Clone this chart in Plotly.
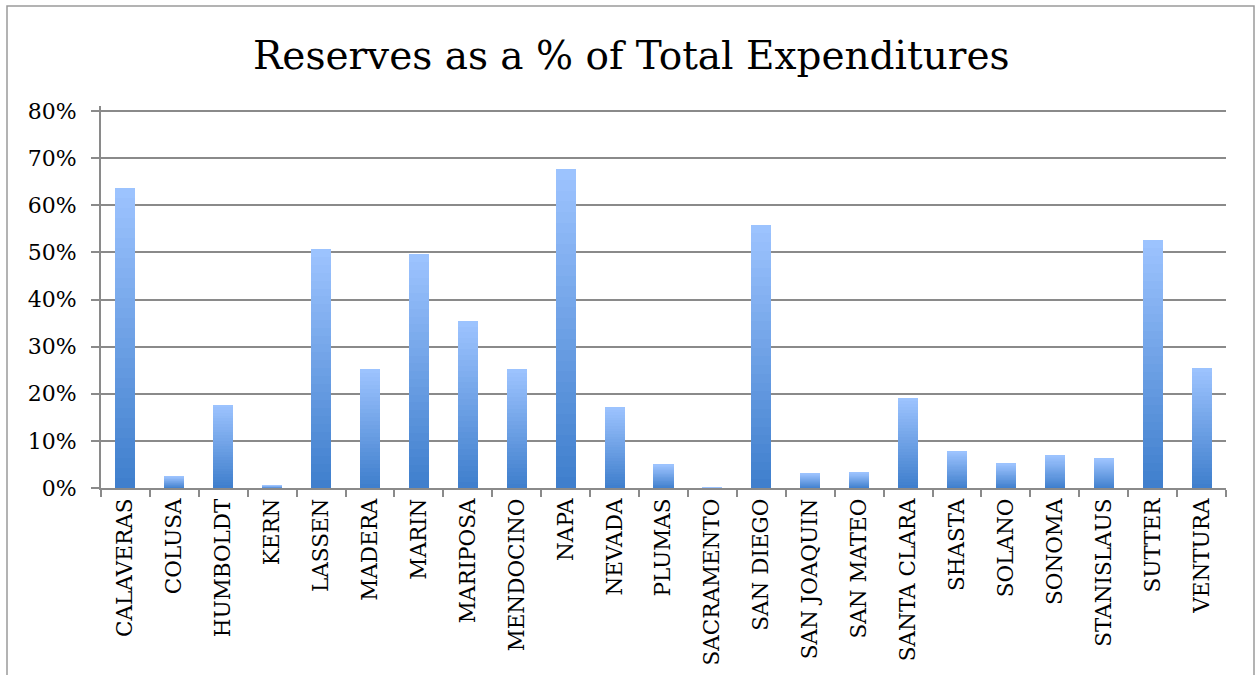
import plotly.graph_objects as go

counties = ["CALAVERAS", "COLUSA", "HUMBOLDT", "KERN", "LASSEN", "MADERA", "MARIN",
            "MARIPOSA", "MENDOCINO", "NAPA", "NEVADA", "PLUMAS", "SACRAMENTO",
            "SAN DIEGO", "SAN JOAQUIN", "SAN MATEO", "SANTA CLARA", "SHASTA",
            "SOLANO", "SONOMA", "STANISLAUS", "SUTTER", "VENTURA"]
reserves_pct = [0.636, 0.025, 0.177, 0.006, 0.508, 0.252, 0.496,
                0.354, 0.252, 0.676, 0.172, 0.050, 0.001,
                0.559, 0.031, 0.033, 0.192, 0.079,
                0.052, 0.069, 0.063, 0.527, 0.254]
y_ticks = [0, 0.1, 0.2, 0.3, 0.4, 0.5, 0.6, 0.7, 0.8]

W, H = 1255, 675
ML, MR, MT, MB = 101, 29, 106, 187
PH = H - MT - MB
Y_TOP = 0.8 * PH / 377.0

bottom_rgb = (62, 126, 204)
top_rgb = (158, 196, 255)
N = 30

fig = go.Figure()
for k in range(N):
    t = (k + 0.5) / N
    c = tuple(round(b + (tp - b) * t) for b, tp in zip(bottom_rgb, top_rgb))
    fig.add_trace(go.Bar(
        x=counties,
        y=[v / N for v in reserves_pct],
        marker=dict(color=f"rgb{c}", line=dict(width=0)),
        showlegend=False,
        hoverinfo="skip",
    ))

grid_col = "#8a8a8a"
fig.update_layout(
    width=W, height=H,
    margin=dict(l=ML, r=MR, t=MT, b=MB),
    barmode="stack",
    bargap=0.59,
    paper_bgcolor="white",
    plot_bgcolor="white",
    font=dict(family="DejaVu Serif", color="black"),
    title=dict(text="Reserves as a % of Total Expenditures",
               font=dict(family="DejaVu Serif", size=39, color="black"),
               x=0.503, xanchor="center", xref="container",
               y=1 - 55 / H, yanchor="middle", yref="container"),
    xaxis=dict(
        type="category",
        automargin=False,
        tickangle=-90,
        tickfont=dict(family="DejaVu Serif", size=21.5, color="black"),
        showline=True, linecolor=grid_col, linewidth=2,
        ticks="outside", tickson="boundaries", ticklen=7, tickcolor=grid_col, tickwidth=1.5,
        showgrid=False,
    ),
    yaxis=dict(
        automargin=False,
        range=[0, Y_TOP],
        tickvals=y_ticks,
        tickformat=".0%",
        tickfont=dict(family="DejaVu Serif", size=22, color="black"),
        showline=True, linecolor=grid_col, linewidth=2,
        ticks="outside", ticklen=8, tickcolor=grid_col, tickwidth=1.5,
        showgrid=True, gridcolor=grid_col, gridwidth=2,
        zeroline=False,
        ticklabelstandoff=10,
    ),
)

pw = W - ML - MR
fig.add_shape(type="rect", xref="paper", yref="paper",
              x0=(7 - ML) / pw, x1=(1254 - ML) / pw,
              y0=-(H + 20 - (H - MB)) / PH, y1=(H - MB - 6) / PH,
              line=dict(color="#9a9a9a", width=1.5), fillcolor="rgba(0,0,0,0)",
              layer="below")

fig.write_html("out.html")
